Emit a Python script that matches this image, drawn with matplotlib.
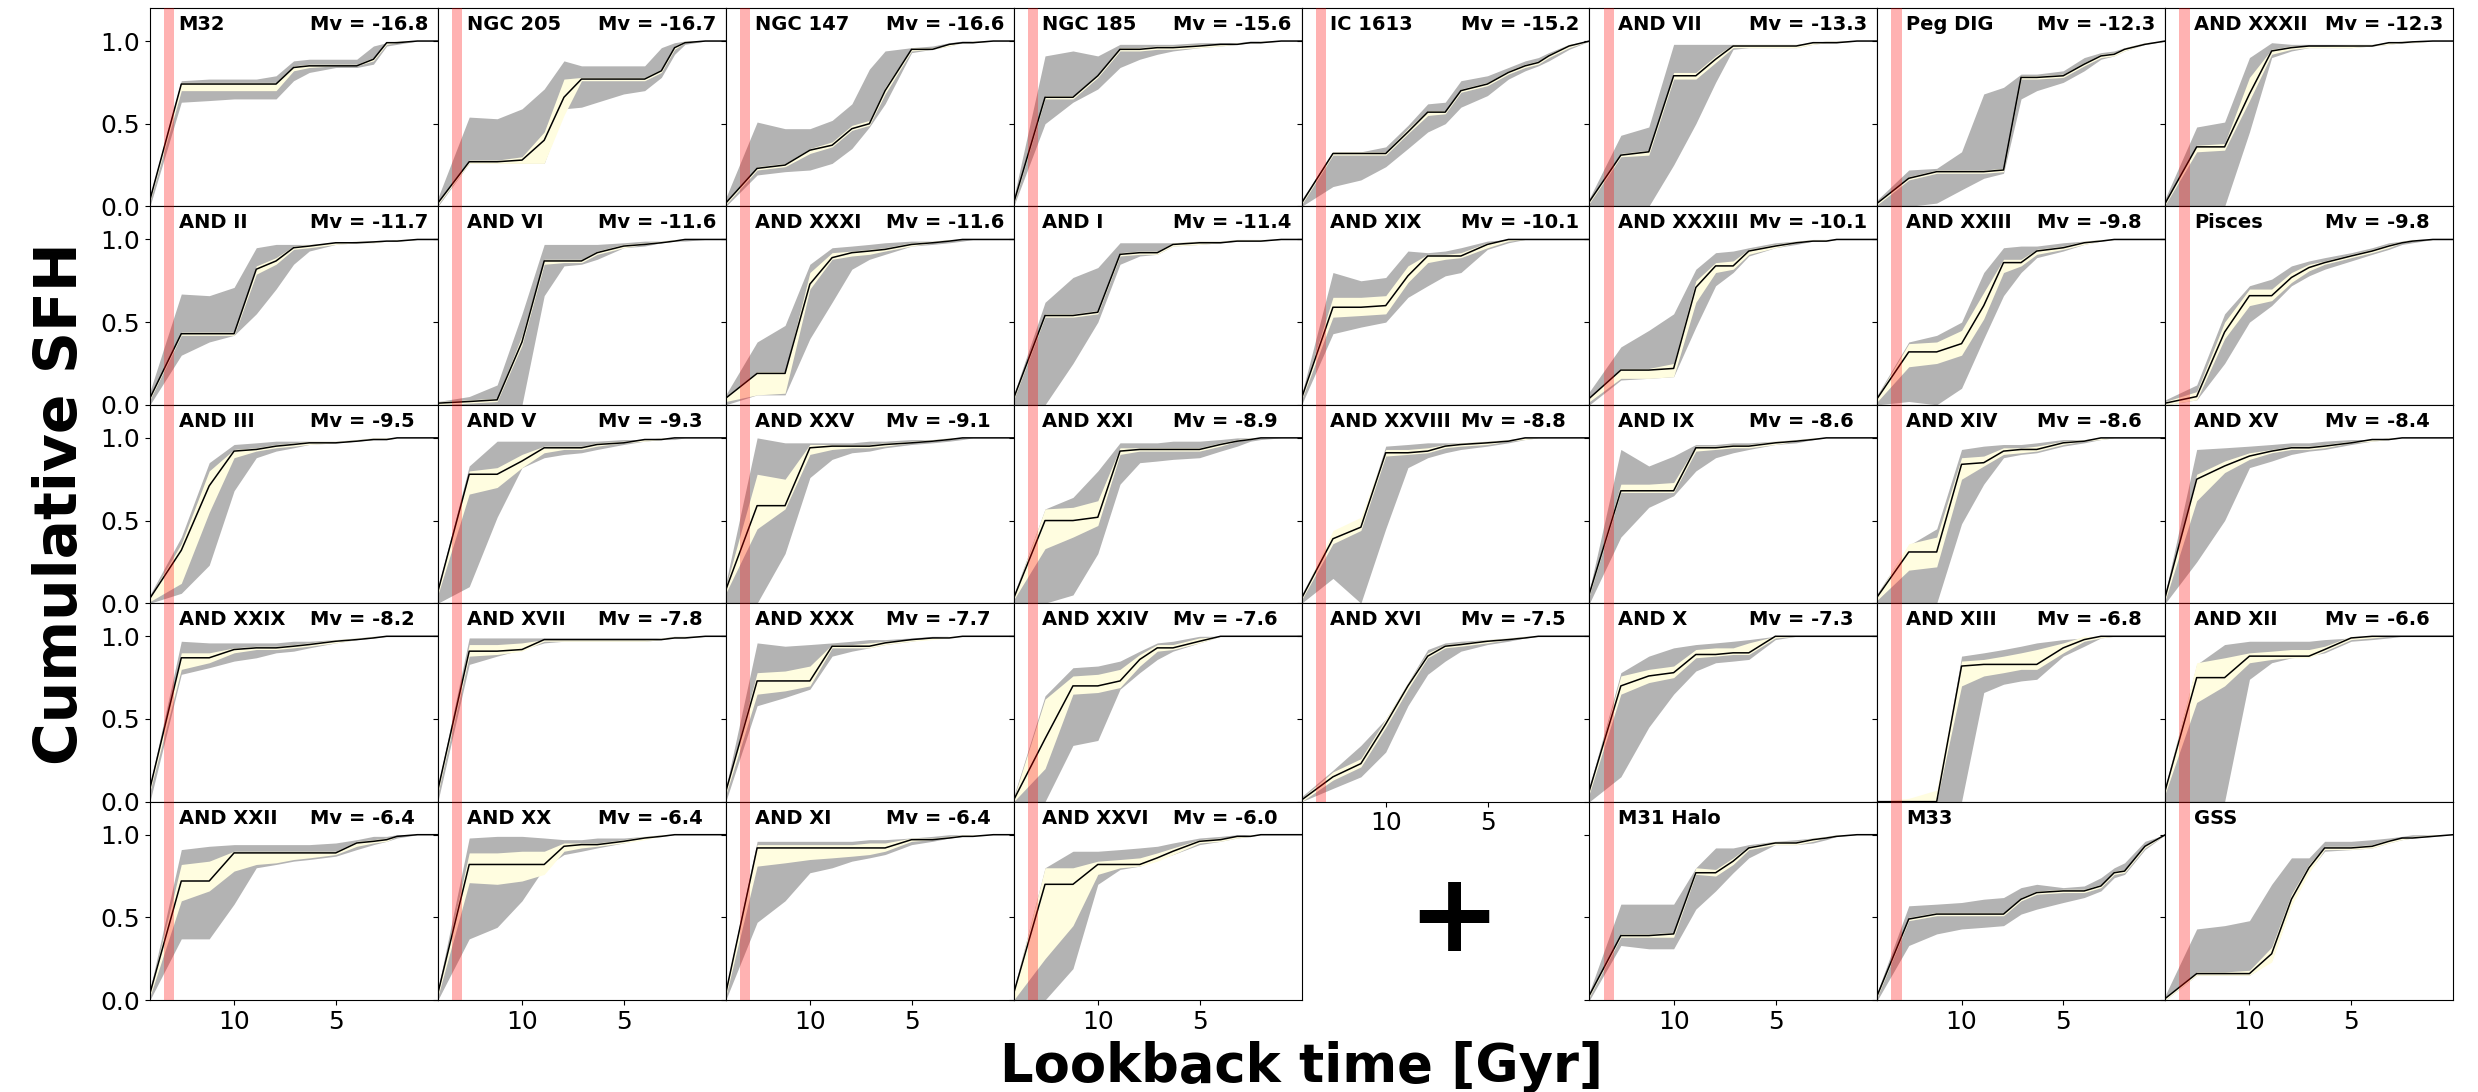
import matplotlib
matplotlib.use("Agg")
import matplotlib.pyplot as plt

# Lookback time grid [Gyr]
lookback = [14.13, 12.59, 11.22, 10.0, 8.91, 7.94, 7.08, 6.31, 5.01, 3.98, 3.16, 2.51, 2.0, 1.0, 0.0]

# ---- per galaxy: best fit, total (gray) lo/hi, random (yellow) lo/hi ----
m32_b  = [0.04,0.74,0.74,0.74,0.74,0.74,0.84,0.85,0.85,0.85,0.89,0.99,0.99,1.0,1.0]
m32_gl = [0.00,0.63,0.64,0.65,0.65,0.65,0.76,0.81,0.84,0.84,0.86,0.97,0.98,1.0,1.0]
m32_gh = [0.06,0.76,0.77,0.77,0.77,0.79,0.88,0.89,0.89,0.89,0.97,0.99,1.0,1.0,1.0]
m32_yl = [0.03,0.70,0.70,0.70,0.70,0.70,0.82,0.84,0.85,0.85,0.88,0.98,0.99,1.0,1.0]
m32_yh = [0.05,0.75,0.75,0.75,0.75,0.75,0.85,0.86,0.86,0.86,0.90,0.99,1.0,1.0,1.0]

n205_b  = [0.02,0.27,0.27,0.28,0.40,0.66,0.77,0.77,0.77,0.77,0.82,0.96,0.99,1.0,1.0]
n205_gl = [0.00,0.26,0.26,0.26,0.26,0.59,0.60,0.63,0.68,0.70,0.78,0.92,0.98,1.0,1.0]
n205_gh = [0.05,0.54,0.53,0.59,0.71,0.88,0.85,0.85,0.85,0.85,0.96,0.99,1.0,1.0,1.0]
n205_yl = [0.01,0.26,0.26,0.26,0.26,0.55,0.76,0.76,0.76,0.76,0.81,0.95,0.99,1.0,1.0]
n205_yh = [0.03,0.28,0.28,0.30,0.45,0.77,0.78,0.78,0.78,0.78,0.83,0.97,1.0,1.0,1.0]

n147_b  = [0.02,0.23,0.25,0.34,0.37,0.47,0.50,0.70,0.95,0.95,0.98,0.99,0.99,1.0,1.0]
n147_gl = [0.00,0.19,0.21,0.22,0.26,0.35,0.48,0.62,0.93,0.95,0.97,0.99,0.99,1.0,1.0]
n147_gh = [0.05,0.51,0.47,0.47,0.52,0.62,0.83,0.94,0.96,0.97,0.99,1.0,1.0,1.0,1.0]
n147_yl = [0.01,0.22,0.24,0.32,0.36,0.46,0.49,0.68,0.94,0.95,0.97,0.99,0.99,1.0,1.0]
n147_yh = [0.03,0.24,0.26,0.35,0.39,0.49,0.52,0.72,0.96,0.96,0.98,0.99,1.0,1.0,1.0]

n185_b  = [0.02,0.66,0.66,0.79,0.95,0.95,0.96,0.96,0.97,0.98,0.98,0.99,0.99,1.0,1.0]
n185_gl = [0.00,0.50,0.63,0.71,0.84,0.89,0.92,0.94,0.96,0.97,0.98,0.99,0.99,1.0,1.0]
n185_gh = [0.05,0.91,0.94,0.91,0.98,0.98,0.98,0.98,0.99,0.99,0.99,1.0,1.0,1.0,1.0]
n185_yl = [0.01,0.65,0.65,0.78,0.94,0.94,0.95,0.95,0.96,0.97,0.98,0.99,0.99,1.0,1.0]
n185_yh = [0.03,0.67,0.67,0.80,0.96,0.96,0.97,0.97,0.98,0.98,0.99,0.99,1.0,1.0,1.0]

ic1613_b  = [0.02,0.32,0.32,0.32,0.45,0.57,0.57,0.70,0.74,0.81,0.85,0.87,0.91,0.97,1.0]
ic1613_gl = [0.00,0.12,0.16,0.24,0.35,0.45,0.50,0.60,0.67,0.77,0.82,0.85,0.88,0.95,1.0]
ic1613_gh = [0.04,0.33,0.33,0.36,0.49,0.62,0.63,0.76,0.79,0.84,0.88,0.90,0.93,0.98,1.0]
ic1613_yl = [0.01,0.31,0.31,0.31,0.44,0.55,0.56,0.69,0.73,0.80,0.84,0.86,0.90,0.96,1.0]
ic1613_yh = [0.03,0.33,0.33,0.33,0.47,0.58,0.58,0.71,0.75,0.82,0.86,0.88,0.92,0.98,1.0]

and7_b  = [0.03,0.31,0.33,0.79,0.79,0.89,0.97,0.97,0.97,0.97,0.99,0.99,0.99,1.0,1.0]
and7_gl = [0.00,0.00,0.00,0.25,0.50,0.75,0.95,0.96,0.96,0.96,0.98,0.99,0.99,1.0,1.0]
and7_gh = [0.05,0.43,0.48,0.98,0.98,0.98,0.98,0.98,0.98,0.98,0.99,1.0,1.0,1.0,1.0]
and7_yl = [0.02,0.30,0.31,0.77,0.77,0.87,0.96,0.96,0.96,0.96,0.98,0.99,0.99,1.0,1.0]
and7_yh = [0.04,0.32,0.34,0.81,0.81,0.91,0.98,0.98,0.98,0.98,0.99,1.0,1.0,1.0,1.0]

peg_b  = [0.02,0.17,0.21,0.21,0.21,0.22,0.78,0.78,0.79,0.86,0.91,0.92,0.95,0.98,1.0]
peg_gl = [0.00,0.00,0.02,0.10,0.17,0.20,0.65,0.70,0.75,0.82,0.89,0.91,0.94,0.98,1.0]
peg_gh = [0.04,0.22,0.23,0.33,0.68,0.72,0.80,0.80,0.82,0.90,0.93,0.94,0.96,0.99,1.0]
peg_yl = [0.01,0.16,0.20,0.20,0.20,0.21,0.77,0.77,0.78,0.85,0.90,0.91,0.94,0.98,1.0]
peg_yh = [0.03,0.18,0.22,0.22,0.22,0.23,0.79,0.79,0.80,0.87,0.92,0.93,0.96,0.99,1.0]

and32_b  = [0.02,0.36,0.36,0.68,0.94,0.96,0.97,0.97,0.97,0.97,0.99,0.99,0.995,1.0,1.0]
and32_gl = [0.00,0.00,0.00,0.45,0.90,0.94,0.96,0.96,0.96,0.97,0.98,0.99,0.99,1.0,1.0]
and32_gh = [0.05,0.48,0.51,0.90,0.99,0.98,0.98,0.98,0.98,0.98,0.99,1.0,1.0,1.0,1.0]
and32_yl = [0.01,0.33,0.34,0.64,0.92,0.95,0.96,0.96,0.96,0.97,0.98,0.99,0.99,1.0,1.0]
and32_yh = [0.03,0.37,0.38,0.78,0.95,0.97,0.97,0.97,0.98,0.98,0.99,1.0,1.0,1.0,1.0]

and2_b  = [0.04,0.43,0.43,0.43,0.82,0.87,0.95,0.96,0.98,0.98,0.985,0.99,0.99,1.0,1.0]
and2_gl = [0.00,0.30,0.38,0.42,0.55,0.70,0.85,0.93,0.97,0.98,0.98,0.99,0.99,1.0,1.0]
and2_gh = [0.08,0.67,0.66,0.71,0.95,0.97,0.97,0.97,0.98,0.99,0.99,0.99,1.0,1.0,1.0]
and2_yl = [0.03,0.42,0.42,0.42,0.79,0.85,0.94,0.95,0.97,0.98,0.98,0.99,0.99,1.0,1.0]
and2_yh = [0.05,0.44,0.44,0.44,0.84,0.89,0.96,0.97,0.98,0.99,0.99,0.99,1.0,1.0,1.0]

and6_b  = [0.01,0.02,0.03,0.38,0.87,0.87,0.87,0.92,0.96,0.97,0.98,0.99,1.0,1.0,1.0]
and6_gl = [0.00,0.00,0.00,0.00,0.66,0.84,0.85,0.88,0.95,0.96,0.98,0.99,0.99,1.0,1.0]
and6_gh = [0.02,0.05,0.12,0.55,0.97,0.97,0.97,0.97,0.98,0.99,0.99,1.0,1.0,1.0,1.0]
and6_yl = [0.00,0.01,0.02,0.36,0.85,0.86,0.86,0.91,0.95,0.97,0.98,0.99,1.0,1.0,1.0]
and6_yh = [0.02,0.03,0.04,0.42,0.88,0.88,0.88,0.93,0.97,0.98,0.99,1.0,1.0,1.0,1.0]

and31_b  = [0.04,0.19,0.19,0.73,0.89,0.92,0.93,0.94,0.97,0.98,0.99,1.0,1.0,1.0,1.0]
and31_gl = [0.00,0.06,0.06,0.40,0.62,0.82,0.88,0.91,0.96,0.97,0.98,0.99,1.0,1.0,1.0]
and31_gh = [0.06,0.38,0.48,0.85,0.95,0.96,0.97,0.98,0.99,0.99,1.0,1.0,1.0,1.0,1.0]
and31_yl = [0.02,0.06,0.07,0.70,0.88,0.90,0.91,0.93,0.96,0.98,0.99,1.0,1.0,1.0,1.0]
and31_yh = [0.05,0.20,0.20,0.80,0.92,0.93,0.94,0.95,0.98,0.99,1.0,1.0,1.0,1.0,1.0]

and1_b  = [0.04,0.54,0.54,0.56,0.91,0.92,0.92,0.97,0.98,0.98,0.99,0.99,0.99,1.0,1.0]
and1_gl = [0.00,0.00,0.25,0.50,0.85,0.90,0.91,0.96,0.97,0.98,0.99,0.99,0.99,1.0,1.0]
and1_gh = [0.06,0.62,0.77,0.83,0.98,0.98,0.98,0.98,0.99,0.99,1.0,1.0,1.0,1.0,1.0]
and1_yl = [0.03,0.53,0.53,0.55,0.90,0.91,0.91,0.96,0.97,0.98,0.99,0.99,0.99,1.0,1.0]
and1_yh = [0.05,0.55,0.55,0.57,0.92,0.93,0.93,0.98,0.99,0.99,1.0,1.0,1.0,1.0,1.0]

and19_b  = [0.04,0.59,0.59,0.60,0.78,0.90,0.90,0.90,0.97,1.0,1.0,1.0,1.0,1.0,1.0]
and19_gl = [0.00,0.43,0.47,0.50,0.65,0.72,0.78,0.80,0.94,0.98,1.0,1.0,1.0,1.0,1.0]
and19_gh = [0.06,0.80,0.75,0.77,0.93,0.92,0.93,0.95,0.99,1.0,1.0,1.0,1.0,1.0,1.0]
and19_yl = [0.03,0.53,0.54,0.55,0.74,0.86,0.88,0.89,0.95,0.99,1.0,1.0,1.0,1.0,1.0]
and19_yh = [0.05,0.65,0.65,0.66,0.84,0.91,0.91,0.92,0.98,1.0,1.0,1.0,1.0,1.0,1.0]

and33_b  = [0.04,0.21,0.21,0.22,0.71,0.84,0.84,0.93,0.96,0.98,0.99,0.99,1.0,1.0,1.0]
and33_gl = [0.00,0.15,0.16,0.17,0.47,0.72,0.80,0.90,0.95,0.97,0.99,0.99,1.0,1.0,1.0]
and33_gh = [0.08,0.35,0.45,0.55,0.82,0.92,0.93,0.95,0.98,0.99,1.0,1.0,1.0,1.0,1.0]
and33_yl = [0.02,0.16,0.16,0.17,0.62,0.80,0.82,0.91,0.95,0.98,0.99,0.99,1.0,1.0,1.0]
and33_yh = [0.05,0.22,0.22,0.25,0.75,0.86,0.87,0.94,0.97,0.99,1.0,1.0,1.0,1.0,1.0]

and23_b  = [0.04,0.32,0.32,0.37,0.60,0.86,0.86,0.93,0.95,0.98,0.99,1.0,1.0,1.0,1.0]
and23_gl = [0.00,0.02,0.00,0.10,0.40,0.66,0.80,0.89,0.93,0.97,0.99,1.0,1.0,1.0,1.0]
and23_gh = [0.06,0.38,0.42,0.50,0.80,0.95,0.96,0.96,0.98,0.99,1.0,1.0,1.0,1.0,1.0]
and23_yl = [0.02,0.23,0.25,0.30,0.52,0.80,0.84,0.91,0.94,0.97,0.99,1.0,1.0,1.0,1.0]
and23_yh = [0.05,0.37,0.38,0.45,0.68,0.88,0.88,0.94,0.96,0.99,1.0,1.0,1.0,1.0,1.0]

psc_b  = [0.01,0.05,0.44,0.66,0.66,0.77,0.83,0.86,0.90,0.93,0.96,0.98,0.99,1.0,1.0]
psc_gl = [0.00,0.03,0.25,0.50,0.60,0.72,0.78,0.82,0.87,0.91,0.94,0.97,0.98,1.0,1.0]
psc_gh = [0.03,0.12,0.55,0.72,0.76,0.84,0.87,0.89,0.92,0.95,0.98,0.99,1.0,1.0,1.0]
psc_yl = [0.00,0.03,0.40,0.60,0.63,0.74,0.81,0.85,0.89,0.92,0.95,0.98,0.99,1.0,1.0]
psc_yh = [0.02,0.08,0.50,0.70,0.70,0.80,0.85,0.87,0.91,0.94,0.97,0.99,1.0,1.0,1.0]

and3_b  = [0.03,0.32,0.71,0.92,0.93,0.95,0.96,0.97,0.97,0.98,0.99,0.99,1.0,1.0,1.0]
and3_gl = [0.00,0.06,0.23,0.68,0.88,0.92,0.94,0.96,0.97,0.98,0.99,0.99,1.0,1.0,1.0]
and3_gh = [0.05,0.40,0.85,0.96,0.97,0.98,0.98,0.98,0.98,0.99,1.0,1.0,1.0,1.0,1.0]
and3_yl = [0.01,0.12,0.55,0.88,0.92,0.94,0.95,0.96,0.97,0.98,0.99,0.99,1.0,1.0,1.0]
and3_yh = [0.04,0.36,0.80,0.93,0.94,0.96,0.97,0.98,0.98,0.99,1.0,1.0,1.0,1.0,1.0]

and5_b  = [0.07,0.78,0.78,0.86,0.94,0.94,0.94,0.96,0.97,0.99,0.99,1.0,1.0,1.0,1.0]
and5_gl = [0.00,0.10,0.52,0.82,0.88,0.90,0.91,0.93,0.96,0.98,0.99,0.99,1.0,1.0,1.0]
and5_gh = [0.09,0.83,0.98,0.98,0.98,0.98,0.98,0.98,0.99,0.99,1.0,1.0,1.0,1.0,1.0]
and5_yl = [0.05,0.66,0.70,0.82,0.91,0.93,0.93,0.95,0.97,0.98,0.99,1.0,1.0,1.0,1.0]
and5_yh = [0.08,0.80,0.82,0.90,0.95,0.95,0.95,0.97,0.98,0.99,1.0,1.0,1.0,1.0,1.0]

and25_b  = [0.08,0.59,0.59,0.94,0.95,0.95,0.95,0.96,0.97,0.98,0.99,1.0,1.0,1.0,1.0]
and25_gl = [0.00,0.00,0.30,0.76,0.87,0.91,0.92,0.94,0.96,0.97,0.98,0.99,1.0,1.0,1.0]
and25_gh = [0.12,1.00,0.97,0.97,0.97,0.97,0.98,0.98,0.99,0.99,1.0,1.0,1.0,1.0,1.0]
and25_yl = [0.06,0.45,0.57,0.90,0.93,0.94,0.94,0.95,0.97,0.98,0.99,1.0,1.0,1.0,1.0]
and25_yh = [0.10,0.78,0.75,0.96,0.96,0.96,0.96,0.97,0.98,0.99,1.0,1.0,1.0,1.0,1.0]

and21_b  = [0.03,0.50,0.50,0.52,0.92,0.93,0.93,0.93,0.93,0.96,0.98,0.99,1.0,1.0,1.0]
and21_gl = [0.00,0.00,0.05,0.30,0.72,0.85,0.86,0.87,0.88,0.92,0.95,0.98,0.99,1.0,1.0]
and21_gh = [0.05,0.57,0.64,0.80,0.97,0.97,0.97,0.98,0.98,0.99,1.0,1.0,1.0,1.0,1.0]
and21_yl = [0.02,0.33,0.40,0.47,0.90,0.92,0.92,0.92,0.92,0.95,0.98,0.99,1.0,1.0,1.0]
and21_yh = [0.04,0.57,0.58,0.62,0.94,0.94,0.94,0.94,0.94,0.97,0.99,1.0,1.0,1.0,1.0]

and28_b  = [0.03,0.39,0.46,0.91,0.91,0.92,0.95,0.96,0.97,0.98,1.0,1.0,1.0,1.0,1.0]
and28_gl = [0.00,0.15,0.00,0.45,0.82,0.88,0.91,0.93,0.95,0.97,0.99,1.0,1.0,1.0,1.0]
and28_gh = [0.05,0.42,0.48,0.95,0.96,0.97,0.97,0.97,0.98,0.99,1.0,1.0,1.0,1.0,1.0]
and28_yl = [0.02,0.36,0.44,0.89,0.90,0.91,0.94,0.95,0.96,0.98,0.99,1.0,1.0,1.0,1.0]
and28_yh = [0.04,0.44,0.52,0.93,0.93,0.94,0.96,0.97,0.98,0.99,1.0,1.0,1.0,1.0,1.0]

and9_b  = [0.06,0.68,0.68,0.68,0.94,0.94,0.95,0.95,0.97,0.98,0.99,1.0,1.0,1.0,1.0]
and9_gl = [0.00,0.40,0.58,0.65,0.80,0.88,0.91,0.93,0.96,0.97,0.99,1.0,1.0,1.0,1.0]
and9_gh = [0.08,0.93,0.83,0.89,0.96,0.96,0.97,0.97,0.98,0.99,1.0,1.0,1.0,1.0,1.0]
and9_yl = [0.05,0.67,0.67,0.67,0.92,0.93,0.94,0.94,0.96,0.98,0.99,1.0,1.0,1.0,1.0]
and9_yh = [0.07,0.72,0.72,0.73,0.95,0.95,0.96,0.96,0.98,0.99,1.0,1.0,1.0,1.0,1.0]

and14_b  = [0.04,0.31,0.31,0.84,0.85,0.92,0.93,0.93,0.97,0.98,1.0,1.0,1.0,1.0,1.0]
and14_gl = [0.00,0.00,0.00,0.48,0.72,0.88,0.90,0.91,0.95,0.97,0.99,1.0,1.0,1.0,1.0]
and14_gh = [0.06,0.35,0.45,0.93,0.95,0.96,0.96,0.97,0.99,0.99,1.0,1.0,1.0,1.0,1.0]
and14_yl = [0.02,0.20,0.22,0.75,0.83,0.90,0.91,0.92,0.96,0.98,0.99,1.0,1.0,1.0,1.0]
and14_yh = [0.05,0.36,0.40,0.88,0.89,0.94,0.94,0.95,0.98,0.99,1.0,1.0,1.0,1.0,1.0]

and15_b  = [0.04,0.75,0.83,0.89,0.92,0.94,0.94,0.95,0.97,0.99,0.99,1.0,1.0,1.0,1.0]
and15_gl = [0.00,0.25,0.50,0.82,0.86,0.90,0.92,0.93,0.96,0.98,0.99,1.0,1.0,1.0,1.0]
and15_gh = [0.06,0.93,0.94,0.95,0.96,0.97,0.97,0.98,0.99,0.99,1.0,1.0,1.0,1.0,1.0]
and15_yl = [0.02,0.62,0.79,0.87,0.91,0.93,0.93,0.94,0.97,0.98,0.99,1.0,1.0,1.0,1.0]
and15_yh = [0.05,0.78,0.86,0.91,0.93,0.95,0.95,0.96,0.98,0.99,1.0,1.0,1.0,1.0,1.0]

and29_b  = [0.08,0.87,0.87,0.92,0.93,0.93,0.94,0.95,0.97,0.98,0.99,1.0,1.0,1.0,1.0]
and29_gl = [0.00,0.77,0.81,0.85,0.87,0.90,0.91,0.93,0.96,0.98,0.99,1.0,1.0,1.0,1.0]
and29_gh = [0.10,0.97,0.96,0.96,0.96,0.96,0.97,0.97,0.98,0.99,1.0,1.0,1.0,1.0,1.0]
and29_yl = [0.06,0.80,0.84,0.90,0.92,0.92,0.93,0.94,0.96,0.98,0.99,1.0,1.0,1.0,1.0]
and29_yh = [0.09,0.90,0.90,0.93,0.94,0.94,0.95,0.96,0.98,0.99,1.0,1.0,1.0,1.0,1.0]

and17_b  = [0.07,0.91,0.91,0.92,0.98,0.98,0.98,0.98,0.98,0.98,0.98,0.99,0.99,1.0,1.0]
and17_gl = [0.00,0.83,0.88,0.92,0.96,0.97,0.97,0.97,0.97,0.97,0.98,0.99,0.99,1.0,1.0]
and17_gh = [0.09,0.99,0.99,0.99,0.99,0.99,0.99,0.99,0.99,0.99,0.99,1.0,1.0,1.0,1.0]
and17_yl = [0.05,0.88,0.89,0.91,0.97,0.97,0.97,0.97,0.97,0.97,0.98,0.99,0.99,1.0,1.0]
and17_yh = [0.08,0.95,0.95,0.96,0.98,0.98,0.98,0.98,0.98,0.98,0.99,1.0,1.0,1.0,1.0]

and30_b  = [0.06,0.73,0.73,0.73,0.94,0.94,0.94,0.96,0.98,0.99,0.99,1.0,1.0,1.0,1.0]
and30_gl = [0.00,0.58,0.63,0.68,0.88,0.91,0.93,0.95,0.97,0.99,1.0,1.0,1.0,1.0,1.0]
and30_gh = [0.08,0.96,0.94,0.95,0.96,0.97,0.98,0.98,0.99,1.0,1.0,1.0,1.0,1.0,1.0]
and30_yl = [0.04,0.65,0.67,0.70,0.93,0.93,0.93,0.95,0.97,0.98,0.99,1.0,1.0,1.0,1.0]
and30_yh = [0.07,0.78,0.79,0.82,0.95,0.95,0.96,0.97,0.98,0.99,1.0,1.0,1.0,1.0,1.0]

and24_b  = [0.01,0.38,0.70,0.70,0.73,0.86,0.93,0.93,0.97,1.0,1.0,1.0,1.0,1.0,1.0]
and24_gl = [0.00,0.00,0.34,0.37,0.68,0.78,0.86,0.91,0.96,1.0,1.0,1.0,1.0,1.0,1.0]
and24_gh = [0.03,0.64,0.81,0.82,0.85,0.91,0.96,0.97,1.0,1.0,1.0,1.0,1.0,1.0,1.0]
and24_yl = [0.00,0.20,0.65,0.66,0.69,0.82,0.91,0.92,0.96,1.0,1.0,1.0,1.0,1.0,1.0]
and24_yh = [0.02,0.62,0.76,0.77,0.80,0.89,0.95,0.95,0.99,1.0,1.0,1.0,1.0,1.0,1.0]

and16_b  = [0.01,0.15,0.23,0.47,0.70,0.88,0.94,0.95,0.97,0.98,0.99,1.0,1.0,1.0,1.0]
and16_gl = [0.00,0.08,0.15,0.30,0.58,0.77,0.85,0.91,0.95,0.97,0.99,1.0,1.0,1.0,1.0]
and16_gh = [0.03,0.19,0.34,0.50,0.72,0.92,0.96,0.97,0.98,0.99,1.0,1.0,1.0,1.0,1.0]
and16_yl = [0.00,0.13,0.21,0.45,0.68,0.87,0.93,0.94,0.96,0.98,0.99,1.0,1.0,1.0,1.0]
and16_yh = [0.02,0.18,0.26,0.50,0.72,0.90,0.95,0.96,0.98,0.99,1.0,1.0,1.0,1.0,1.0]

and10_b  = [0.07,0.70,0.76,0.78,0.89,0.89,0.90,0.90,1.0,1.0,1.0,1.0,1.0,1.0,1.0]
and10_gl = [0.00,0.15,0.45,0.65,0.79,0.84,0.85,0.86,0.98,1.0,1.0,1.0,1.0,1.0,1.0]
and10_gh = [0.09,0.78,0.88,0.93,0.95,0.96,0.97,0.98,1.0,1.0,1.0,1.0,1.0,1.0,1.0]
and10_yl = [0.05,0.65,0.72,0.75,0.87,0.88,0.89,0.89,0.99,1.0,1.0,1.0,1.0,1.0,1.0]
and10_yh = [0.08,0.76,0.80,0.82,0.92,0.93,0.93,0.96,1.0,1.0,1.0,1.0,1.0,1.0,1.0]

and13_b  = [0.00,0.00,0.00,0.82,0.83,0.83,0.83,0.83,0.93,0.98,1.0,1.0,1.0,1.0,1.0]
and13_gl = [0.00,0.00,0.00,0.00,0.66,0.71,0.73,0.74,0.88,0.94,0.99,1.0,1.0,1.0,1.0]
and13_gh = [0.00,0.00,0.00,0.88,0.90,0.92,0.94,0.96,0.98,0.99,1.0,1.0,1.0,1.0,1.0]
and13_yl = [0.00,0.00,0.00,0.70,0.76,0.78,0.80,0.80,0.90,0.97,0.99,1.0,1.0,1.0,1.0]
and13_yh = [0.00,0.02,0.07,0.85,0.86,0.88,0.90,0.92,0.96,1.0,1.0,1.0,1.0,1.0,1.0]

and12_b  = [0.07,0.75,0.75,0.88,0.88,0.88,0.88,0.92,0.99,1.0,1.0,1.0,1.0,1.0,1.0]
and12_gl = [0.00,0.00,0.00,0.74,0.84,0.87,0.88,0.90,0.97,0.98,0.99,1.0,1.0,1.0,1.0]
and12_gh = [0.09,0.83,0.95,0.97,0.97,0.97,0.97,0.98,0.99,1.0,1.0,1.0,1.0,1.0,1.0]
and12_yl = [0.05,0.60,0.70,0.84,0.86,0.87,0.87,0.91,0.98,0.99,1.0,1.0,1.0,1.0,1.0]
and12_yh = [0.08,0.84,0.87,0.90,0.91,0.92,0.92,0.94,1.0,1.0,1.0,1.0,1.0,1.0,1.0]

and22_b  = [0.04,0.72,0.72,0.89,0.89,0.89,0.89,0.89,0.89,0.95,0.96,0.97,0.99,1.0,1.0]
and22_gl = [0.00,0.37,0.37,0.58,0.80,0.82,0.84,0.85,0.87,0.91,0.94,0.96,0.98,1.0,1.0]
and22_gh = [0.06,0.91,0.93,0.94,0.94,0.94,0.94,0.94,0.95,0.97,0.99,0.99,1.0,1.0,1.0]
and22_yl = [0.02,0.60,0.66,0.78,0.82,0.83,0.85,0.86,0.88,0.93,0.95,0.96,0.99,1.0,1.0]
and22_yh = [0.05,0.82,0.84,0.90,0.90,0.90,0.90,0.90,0.90,0.96,0.97,0.98,0.99,1.0,1.0]

and20_b  = [0.04,0.82,0.82,0.82,0.82,0.93,0.94,0.94,0.96,0.98,0.99,1.0,1.0,1.0,1.0]
and20_gl = [0.00,0.37,0.44,0.60,0.80,0.88,0.90,0.92,0.95,0.98,0.99,1.0,1.0,1.0,1.0]
and20_gh = [0.06,0.98,0.99,0.99,0.98,0.97,0.97,0.98,0.98,0.99,1.0,1.0,1.0,1.0,1.0]
and20_yl = [0.02,0.71,0.70,0.72,0.76,0.90,0.92,0.93,0.95,0.97,0.99,1.0,1.0,1.0,1.0]
and20_yh = [0.05,0.89,0.89,0.90,0.90,0.95,0.95,0.95,0.97,0.99,1.0,1.0,1.0,1.0,1.0]

and11_b  = [0.04,0.92,0.92,0.92,0.92,0.92,0.92,0.92,0.97,0.97,0.98,0.99,0.99,1.0,1.0]
and11_gl = [0.00,0.47,0.60,0.77,0.80,0.84,0.86,0.88,0.94,0.96,0.98,0.99,1.0,1.0,1.0]
and11_gh = [0.06,0.96,0.96,0.96,0.96,0.96,0.97,0.97,0.98,0.99,1.0,1.0,1.0,1.0,1.0]
and11_yl = [0.02,0.81,0.83,0.85,0.86,0.87,0.88,0.90,0.96,0.97,0.98,0.99,0.99,1.0,1.0]
and11_yh = [0.05,0.94,0.94,0.94,0.94,0.94,0.95,0.95,0.98,0.98,0.99,1.0,1.0,1.0,1.0]

and26_b  = [0.04,0.70,0.70,0.82,0.82,0.82,0.86,0.90,0.96,0.97,0.99,0.99,1.0,1.0,1.0]
and26_gl = [0.00,0.00,0.19,0.70,0.79,0.81,0.85,0.88,0.94,0.96,0.98,0.99,1.0,1.0,1.0]
and26_gh = [0.06,0.80,0.90,0.90,0.91,0.92,0.93,0.95,0.98,0.99,1.0,1.0,1.0,1.0,1.0]
and26_yl = [0.00,0.25,0.45,0.76,0.80,0.81,0.84,0.88,0.95,0.96,0.98,0.99,1.0,1.0,1.0]
and26_yh = [0.05,0.80,0.80,0.84,0.85,0.86,0.89,0.92,0.97,0.98,0.99,1.0,1.0,1.0,1.0]

halo_b  = [0.03,0.39,0.39,0.40,0.77,0.77,0.84,0.92,0.95,0.95,0.97,0.98,0.99,1.0,1.0]
halo_gl = [0.00,0.33,0.31,0.31,0.55,0.66,0.77,0.86,0.94,0.94,0.95,0.97,0.99,1.0,1.0]
halo_gh = [0.05,0.58,0.58,0.58,0.80,0.92,0.92,0.94,0.96,0.97,0.98,0.99,1.0,1.0,1.0]
halo_yl = [0.02,0.38,0.38,0.38,0.76,0.75,0.82,0.91,0.94,0.94,0.96,0.98,0.99,1.0,1.0]
halo_yh = [0.04,0.40,0.40,0.41,0.80,0.79,0.86,0.93,0.96,0.96,0.98,0.99,1.0,1.0,1.0]

m33_b  = [0.03,0.49,0.52,0.52,0.52,0.52,0.61,0.65,0.66,0.66,0.69,0.77,0.78,0.93,1.0]
m33_gl = [0.00,0.33,0.40,0.43,0.44,0.45,0.52,0.55,0.59,0.62,0.66,0.74,0.76,0.91,1.0]
m33_gh = [0.05,0.57,0.58,0.59,0.61,0.62,0.68,0.70,0.68,0.69,0.74,0.80,0.83,0.96,1.0]
m33_yl = [0.02,0.48,0.51,0.51,0.51,0.51,0.60,0.64,0.65,0.65,0.68,0.76,0.77,0.92,1.0]
m33_yh = [0.04,0.50,0.53,0.53,0.53,0.53,0.62,0.66,0.67,0.67,0.70,0.78,0.79,0.94,1.0]

gss_b  = [0.01,0.16,0.16,0.16,0.28,0.61,0.80,0.92,0.92,0.93,0.96,0.98,0.98,0.99,1.0]
gss_gl = [0.00,0.15,0.15,0.15,0.24,0.58,0.78,0.90,0.91,0.92,0.95,0.97,0.98,0.99,1.0]
gss_gh = [0.03,0.43,0.45,0.48,0.70,0.86,0.86,0.96,0.96,0.97,0.98,0.99,1.0,1.0,1.0]
gss_yl = [0.00,0.15,0.15,0.15,0.23,0.57,0.77,0.91,0.91,0.92,0.95,0.97,0.98,0.99,1.0]
gss_yh = [0.02,0.17,0.17,0.18,0.32,0.64,0.82,0.93,0.93,0.94,0.97,0.98,0.99,1.0,1.0]

# Panel names and absolute magnitudes (row-major, None = empty panel)
names = ["M32", "NGC 205", "NGC 147", "NGC 185", "IC 1613", "AND VII", "Peg DIG", "AND XXXII",
         "AND II", "AND VI", "AND XXXI", "AND I", "AND XIX", "AND XXXIII", "AND XXIII", "Pisces",
         "AND III", "AND V", "AND XXV", "AND XXI", "AND XXVIII", "AND IX", "AND XIV", "AND XV",
         "AND XXIX", "AND XVII", "AND XXX", "AND XXIV", "AND XVI", "AND X", "AND XIII", "AND XII",
         "AND XXII", "AND XX", "AND XI", "AND XXVI", None, "M31 Halo", "M33", "GSS"]
mags = ["-16.8", "-16.7", "-16.6", "-15.6", "-15.2", "-13.3", "-12.3", "-12.3",
        "-11.7", "-11.6", "-11.6", "-11.4", "-10.1", "-10.1", "-9.8", "-9.8",
        "-9.5", "-9.3", "-9.1", "-8.9", "-8.8", "-8.6", "-8.6", "-8.4",
        "-8.2", "-7.8", "-7.7", "-7.6", "-7.5", "-7.3", "-6.8", "-6.6",
        "-6.4", "-6.4", "-6.4", "-6.0", None, None, None, None]
curves = [
    (m32_b, m32_gl, m32_gh, m32_yl, m32_yh), (n205_b, n205_gl, n205_gh, n205_yl, n205_yh),
    (n147_b, n147_gl, n147_gh, n147_yl, n147_yh), (n185_b, n185_gl, n185_gh, n185_yl, n185_yh),
    (ic1613_b, ic1613_gl, ic1613_gh, ic1613_yl, ic1613_yh), (and7_b, and7_gl, and7_gh, and7_yl, and7_yh),
    (peg_b, peg_gl, peg_gh, peg_yl, peg_yh), (and32_b, and32_gl, and32_gh, and32_yl, and32_yh),
    (and2_b, and2_gl, and2_gh, and2_yl, and2_yh), (and6_b, and6_gl, and6_gh, and6_yl, and6_yh),
    (and31_b, and31_gl, and31_gh, and31_yl, and31_yh), (and1_b, and1_gl, and1_gh, and1_yl, and1_yh),
    (and19_b, and19_gl, and19_gh, and19_yl, and19_yh), (and33_b, and33_gl, and33_gh, and33_yl, and33_yh),
    (and23_b, and23_gl, and23_gh, and23_yl, and23_yh), (psc_b, psc_gl, psc_gh, psc_yl, psc_yh),
    (and3_b, and3_gl, and3_gh, and3_yl, and3_yh), (and5_b, and5_gl, and5_gh, and5_yl, and5_yh),
    (and25_b, and25_gl, and25_gh, and25_yl, and25_yh), (and21_b, and21_gl, and21_gh, and21_yl, and21_yh),
    (and28_b, and28_gl, and28_gh, and28_yl, and28_yh), (and9_b, and9_gl, and9_gh, and9_yl, and9_yh),
    (and14_b, and14_gl, and14_gh, and14_yl, and14_yh), (and15_b, and15_gl, and15_gh, and15_yl, and15_yh),
    (and29_b, and29_gl, and29_gh, and29_yl, and29_yh), (and17_b, and17_gl, and17_gh, and17_yl, and17_yh),
    (and30_b, and30_gl, and30_gh, and30_yl, and30_yh), (and24_b, and24_gl, and24_gh, and24_yl, and24_yh),
    (and16_b, and16_gl, and16_gh, and16_yl, and16_yh), (and10_b, and10_gl, and10_gh, and10_yl, and10_yh),
    (and13_b, and13_gl, and13_gh, and13_yl, and13_yh), (and12_b, and12_gl, and12_gh, and12_yl, and12_yh),
    (and22_b, and22_gl, and22_gh, and22_yl, and22_yh), (and20_b, and20_gl, and20_gh, and20_yl, and20_yh),
    (and11_b, and11_gl, and11_gh, and11_yl, and11_yh), (and26_b, and26_gl, and26_gh, and26_yl, and26_yh),
    None,
    (halo_b, halo_gl, halo_gh, halo_yl, halo_yh), (m33_b, m33_gl, m33_gh, m33_yl, m33_yh),
    (gss_b, gss_gl, gss_gh, gss_yl, gss_yh),
]

reion = (12.93, 13.44)
xticks = [10, 5]
yticks = [0.0, 0.5, 1.0]

plt.rcParams['font.family'] = ['DejaVu Sans']
fig, axes = plt.subplots(5, 8, figsize=(24.78, 10.92), dpi=100)
fig.subplots_adjust(left=0.0605, right=0.990, top=0.9927, bottom=0.0842, wspace=0, hspace=0)

for idx, ax in enumerate(axes.flat):
    r, c = divmod(idx, 8)
    if curves[idx] is None:
        ax.axis('off')
        ax.text(0.53, 0.40, "+", transform=ax.transAxes, ha='center', va='center',
                fontsize=80, fontweight='bold', color='black')
        continue
    b, gl, gh, yl, yh = curves[idx]
    ax.fill_between(lookback, gl, gh, color='#b3b3b3', lw=0, zorder=1)
    ax.fill_between(lookback, yl, yh, color='#fffde0', lw=0, zorder=2)
    ax.plot(lookback, b, color='black', lw=1.1, zorder=3)
    ax.axvspan(reion[0], reion[1], color='red', alpha=0.3, lw=0, zorder=4)
    ax.set_xlim(14.13, 0)
    ax.set_ylim(0, 1.2)
    ax.set_xticks(xticks)
    ax.set_yticks(yticks)
    show_x = (r == 4) or (r == 3 and c == 4)
    ax.tick_params(labelsize=18, labelbottom=show_x, labelleft=(c == 0))
    ax.text(0.1, 0.965, names[idx], transform=ax.transAxes, fontsize=14,
            fontweight='bold', va='top', ha='left', zorder=5)
    if mags[idx] is not None:
        ax.text(0.555, 0.965, "Mv = " + mags[idx], transform=ax.transAxes, fontsize=14,
                fontweight='bold', va='top', ha='left', zorder=5)

fig.text(0.5254, 0.0095, "Lookback time [Gyr]", ha='center', va='baseline',
         fontsize=38, fontweight='bold')
fig.text(0.0245, 0.5385, "Cumulative SFH", ha='center', va='center', rotation=90,
         fontsize=42, fontweight='bold')

fig.savefig("out.png", dpi=100)
